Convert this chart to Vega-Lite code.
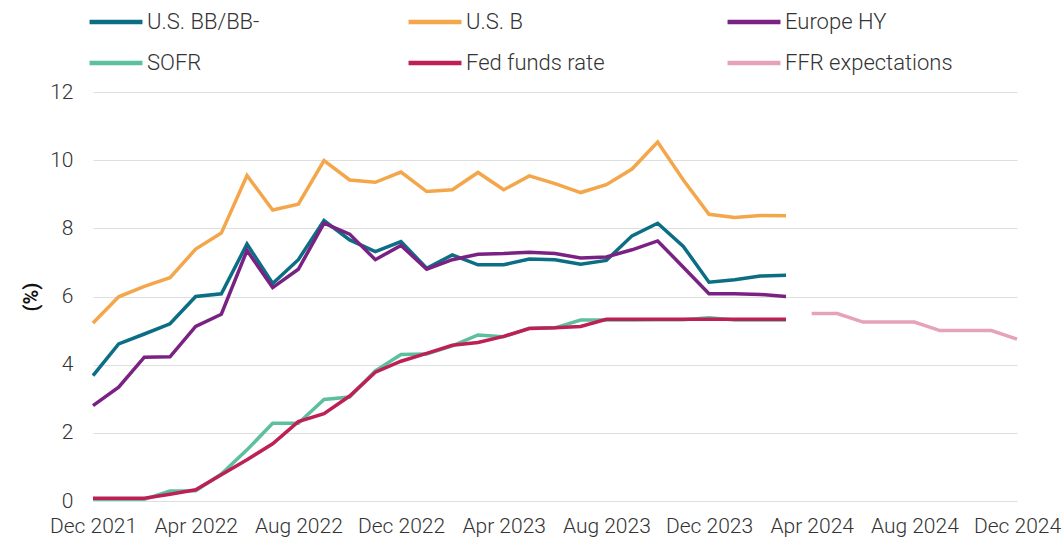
{
  "$schema": "https://vega.github.io/schema/vega-lite/v6.json",
  "width": 924,
  "height": 409,
  "autosize": {"type": "none"},
  "padding": {"left": 93, "top": 92, "right": 46, "bottom": 37},
  "background": "white",
  "config": {
    "font": "Roboto",
    "view": {"stroke": null},
    "axis": {"labelFont": "Roboto", "labelFontSize": 21, "labelFontWeight": 300, "labelColor": "#333333", "titleFont": "Roboto"},
    "legend": {"labelFont": "Roboto", "labelFontSize": 22, "labelFontWeight": 300, "labelColor": "#333333"}
  },
  "data": {"values": [
    {"month":"Dec 2021","series":"U.S. BB/BB-","value":3.68},
    {"month":"Jan 2022","series":"U.S. BB/BB-","value":4.61},
    {"month":"Feb 2022","series":"U.S. BB/BB-","value":4.90},
    {"month":"Mar 2022","series":"U.S. BB/BB-","value":5.20},
    {"month":"Apr 2022","series":"U.S. BB/BB-","value":6.00},
    {"month":"May 2022","series":"U.S. BB/BB-","value":6.08},
    {"month":"Jun 2022","series":"U.S. BB/BB-","value":7.54},
    {"month":"Jul 2022","series":"U.S. BB/BB-","value":6.38},
    {"month":"Aug 2022","series":"U.S. BB/BB-","value":7.08},
    {"month":"Sep 2022","series":"U.S. BB/BB-","value":8.23},
    {"month":"Oct 2022","series":"U.S. BB/BB-","value":7.66},
    {"month":"Nov 2022","series":"U.S. BB/BB-","value":7.32},
    {"month":"Dec 2022","series":"U.S. BB/BB-","value":7.61},
    {"month":"Jan 2023","series":"U.S. BB/BB-","value":6.83},
    {"month":"Feb 2023","series":"U.S. BB/BB-","value":7.22},
    {"month":"Mar 2023","series":"U.S. BB/BB-","value":6.93},
    {"month":"Apr 2023","series":"U.S. BB/BB-","value":6.93},
    {"month":"May 2023","series":"U.S. BB/BB-","value":7.10},
    {"month":"Jun 2023","series":"U.S. BB/BB-","value":7.08},
    {"month":"Jul 2023","series":"U.S. BB/BB-","value":6.95},
    {"month":"Aug 2023","series":"U.S. BB/BB-","value":7.06},
    {"month":"Sep 2023","series":"U.S. BB/BB-","value":7.78},
    {"month":"Oct 2023","series":"U.S. BB/BB-","value":8.15},
    {"month":"Nov 2023","series":"U.S. BB/BB-","value":7.47},
    {"month":"Dec 2023","series":"U.S. BB/BB-","value":6.42},
    {"month":"Jan 2024","series":"U.S. BB/BB-","value":6.49},
    {"month":"Feb 2024","series":"U.S. BB/BB-","value":6.60},
    {"month":"Mar 2024","series":"U.S. BB/BB-","value":6.62},

    {"month":"Dec 2021","series":"U.S. B","value":5.22},
    {"month":"Jan 2022","series":"U.S. B","value":5.99},
    {"month":"Feb 2022","series":"U.S. B","value":6.30},
    {"month":"Mar 2022","series":"U.S. B","value":6.55},
    {"month":"Apr 2022","series":"U.S. B","value":7.39},
    {"month":"May 2022","series":"U.S. B","value":7.86},
    {"month":"Jun 2022","series":"U.S. B","value":9.55},
    {"month":"Jul 2022","series":"U.S. B","value":8.54},
    {"month":"Aug 2022","series":"U.S. B","value":8.71},
    {"month":"Sep 2022","series":"U.S. B","value":9.99},
    {"month":"Oct 2022","series":"U.S. B","value":9.42},
    {"month":"Nov 2022","series":"U.S. B","value":9.35},
    {"month":"Dec 2022","series":"U.S. B","value":9.65},
    {"month":"Jan 2023","series":"U.S. B","value":9.08},
    {"month":"Feb 2023","series":"U.S. B","value":9.13},
    {"month":"Mar 2023","series":"U.S. B","value":9.64},
    {"month":"Apr 2023","series":"U.S. B","value":9.13},
    {"month":"May 2023","series":"U.S. B","value":9.54},
    {"month":"Jun 2023","series":"U.S. B","value":9.31},
    {"month":"Jul 2023","series":"U.S. B","value":9.05},
    {"month":"Aug 2023","series":"U.S. B","value":9.28},
    {"month":"Sep 2023","series":"U.S. B","value":9.74},
    {"month":"Oct 2023","series":"U.S. B","value":10.53},
    {"month":"Nov 2023","series":"U.S. B","value":9.42},
    {"month":"Dec 2023","series":"U.S. B","value":8.41},
    {"month":"Jan 2024","series":"U.S. B","value":8.32},
    {"month":"Feb 2024","series":"U.S. B","value":8.38},
    {"month":"Mar 2024","series":"U.S. B","value":8.37},

    {"month":"Dec 2021","series":"Europe HY","value":2.80},
    {"month":"Jan 2022","series":"Europe HY","value":3.34},
    {"month":"Feb 2022","series":"Europe HY","value":4.22},
    {"month":"Mar 2022","series":"Europe HY","value":4.23},
    {"month":"Apr 2022","series":"Europe HY","value":5.12},
    {"month":"May 2022","series":"Europe HY","value":5.48},
    {"month":"Jun 2022","series":"Europe HY","value":7.35},
    {"month":"Jul 2022","series":"Europe HY","value":6.26},
    {"month":"Aug 2022","series":"Europe HY","value":6.80},
    {"month":"Sep 2022","series":"Europe HY","value":8.15},
    {"month":"Oct 2022","series":"Europe HY","value":7.83},
    {"month":"Nov 2022","series":"Europe HY","value":7.08},
    {"month":"Dec 2022","series":"Europe HY","value":7.50},
    {"month":"Jan 2023","series":"Europe HY","value":6.80},
    {"month":"Feb 2023","series":"Europe HY","value":7.08},
    {"month":"Mar 2023","series":"Europe HY","value":7.24},
    {"month":"Apr 2023","series":"Europe HY","value":7.26},
    {"month":"May 2023","series":"Europe HY","value":7.30},
    {"month":"Jun 2023","series":"Europe HY","value":7.26},
    {"month":"Jul 2023","series":"Europe HY","value":7.13},
    {"month":"Aug 2023","series":"Europe HY","value":7.16},
    {"month":"Sep 2023","series":"Europe HY","value":7.37},
    {"month":"Oct 2023","series":"Europe HY","value":7.63},
    {"month":"Nov 2023","series":"Europe HY","value":6.86},
    {"month":"Dec 2023","series":"Europe HY","value":6.08},
    {"month":"Jan 2024","series":"Europe HY","value":6.08},
    {"month":"Feb 2024","series":"Europe HY","value":6.06},
    {"month":"Mar 2024","series":"Europe HY","value":6.00},

    {"month":"Dec 2021","series":"SOFR","value":0.05},
    {"month":"Jan 2022","series":"SOFR","value":0.05},
    {"month":"Feb 2022","series":"SOFR","value":0.05},
    {"month":"Mar 2022","series":"SOFR","value":0.29},
    {"month":"Apr 2022","series":"SOFR","value":0.30},
    {"month":"May 2022","series":"SOFR","value":0.79},
    {"month":"Jun 2022","series":"SOFR","value":1.50},
    {"month":"Jul 2022","series":"SOFR","value":2.28},
    {"month":"Aug 2022","series":"SOFR","value":2.28},
    {"month":"Sep 2022","series":"SOFR","value":2.98},
    {"month":"Oct 2022","series":"SOFR","value":3.05},
    {"month":"Nov 2022","series":"SOFR","value":3.82},
    {"month":"Dec 2022","series":"SOFR","value":4.30},
    {"month":"Jan 2023","series":"SOFR","value":4.31},
    {"month":"Feb 2023","series":"SOFR","value":4.55},
    {"month":"Mar 2023","series":"SOFR","value":4.87},
    {"month":"Apr 2023","series":"SOFR","value":4.82},
    {"month":"May 2023","series":"SOFR","value":5.07},
    {"month":"Jun 2023","series":"SOFR","value":5.08},
    {"month":"Jul 2023","series":"SOFR","value":5.31},
    {"month":"Aug 2023","series":"SOFR","value":5.31},
    {"month":"Sep 2023","series":"SOFR","value":5.31},
    {"month":"Oct 2023","series":"SOFR","value":5.32},
    {"month":"Nov 2023","series":"SOFR","value":5.32},
    {"month":"Dec 2023","series":"SOFR","value":5.38},
    {"month":"Jan 2024","series":"SOFR","value":5.31},
    {"month":"Feb 2024","series":"SOFR","value":5.31},
    {"month":"Mar 2024","series":"SOFR","value":5.31},

    {"month":"Dec 2021","series":"Fed funds rate","value":0.08},
    {"month":"Jan 2022","series":"Fed funds rate","value":0.08},
    {"month":"Feb 2022","series":"Fed funds rate","value":0.08},
    {"month":"Mar 2022","series":"Fed funds rate","value":0.20},
    {"month":"Apr 2022","series":"Fed funds rate","value":0.33},
    {"month":"May 2022","series":"Fed funds rate","value":0.77},
    {"month":"Jun 2022","series":"Fed funds rate","value":1.21},
    {"month":"Jul 2022","series":"Fed funds rate","value":1.68},
    {"month":"Aug 2022","series":"Fed funds rate","value":2.33},
    {"month":"Sep 2022","series":"Fed funds rate","value":2.56},
    {"month":"Oct 2022","series":"Fed funds rate","value":3.08},
    {"month":"Nov 2022","series":"Fed funds rate","value":3.78},
    {"month":"Dec 2022","series":"Fed funds rate","value":4.10},
    {"month":"Jan 2023","series":"Fed funds rate","value":4.33},
    {"month":"Feb 2023","series":"Fed funds rate","value":4.57},
    {"month":"Mar 2023","series":"Fed funds rate","value":4.65},
    {"month":"Apr 2023","series":"Fed funds rate","value":4.83},
    {"month":"May 2023","series":"Fed funds rate","value":5.06},
    {"month":"Jun 2023","series":"Fed funds rate","value":5.08},
    {"month":"Jul 2023","series":"Fed funds rate","value":5.12},
    {"month":"Aug 2023","series":"Fed funds rate","value":5.33},
    {"month":"Sep 2023","series":"Fed funds rate","value":5.33},
    {"month":"Oct 2023","series":"Fed funds rate","value":5.33},
    {"month":"Nov 2023","series":"Fed funds rate","value":5.33},
    {"month":"Dec 2023","series":"Fed funds rate","value":5.33},
    {"month":"Jan 2024","series":"Fed funds rate","value":5.33},
    {"month":"Feb 2024","series":"Fed funds rate","value":5.33},
    {"month":"Mar 2024","series":"Fed funds rate","value":5.33},

    {"month":"Apr 2024","series":"FFR expectations","value":5.50},
    {"month":"May 2024","series":"FFR expectations","value":5.50},
    {"month":"Jun 2024","series":"FFR expectations","value":5.25},
    {"month":"Jul 2024","series":"FFR expectations","value":5.25},
    {"month":"Aug 2024","series":"FFR expectations","value":5.25},
    {"month":"Sep 2024","series":"FFR expectations","value":5.00},
    {"month":"Oct 2024","series":"FFR expectations","value":5.00},
    {"month":"Nov 2024","series":"FFR expectations","value":5.00},
    {"month":"Dec 2024","series":"FFR expectations","value":4.75}
  ]},
  "mark": {"type": "line", "strokeWidth": 3.5, "strokeJoin": "miter"},
  "encoding": {
    "x": {
      "field": "month",
      "type": "ordinal",
      "sort": null,
      "scale": {
        "type": "point",
        "padding": 0,
        "domain": ["Dec 2021","Jan 2022","Feb 2022","Mar 2022","Apr 2022","May 2022","Jun 2022","Jul 2022","Aug 2022","Sep 2022","Oct 2022","Nov 2022","Dec 2022","Jan 2023","Feb 2023","Mar 2023","Apr 2023","May 2023","Jun 2023","Jul 2023","Aug 2023","Sep 2023","Oct 2023","Nov 2023","Dec 2023","Jan 2024","Feb 2024","Mar 2024","Apr 2024","May 2024","Jun 2024","Jul 2024","Aug 2024","Sep 2024","Oct 2024","Nov 2024","Dec 2024"]
      },
      "axis": {
        "title": null,
        "values": ["Dec 2021","Apr 2022","Aug 2022","Dec 2022","Apr 2023","Aug 2023","Dec 2023","Apr 2024","Aug 2024","Dec 2024"],
        "labelAngle": 0,
        "ticks": false,
        "domain": false,
        "grid": false,
        "labelPadding": 14,
        "labelOverlap": false
      }
    },
    "y": {
      "field": "value",
      "type": "quantitative",
      "scale": {"domain": [0, 12], "nice": false},
      "axis": {
        "title": "(%)",
        "titleFontSize": 20,
        "titleFontWeight": "bold",
        "titleColor": "#111111",
        "titlePadding": 8,
        "values": [0, 2, 4, 6, 8, 10, 12],
        "ticks": false,
        "domain": false,
        "grid": true,
        "gridColor": "#dedede",
        "gridWidth": 1.2,
        "labelPadding": 20
      }
    },
    "color": {
      "field": "series",
      "type": "nominal",
      "scale": {
        "domain": ["U.S. BB/BB-","U.S. B","Europe HY","SOFR","Fed funds rate","FFR expectations"],
        "range": ["#0B6E84","#F3A64A","#7A2283","#5CBF9E","#BF1F57","#E5A2B8"]
      },
      "legend": {
        "title": null,
        "orient": "none",
        "direction": "horizontal",
        "legendX": -6,
        "legendY": -99,
        "columns": 3,
        "gridAlign": "all",
        "columnPadding": 84,
        "rowPadding": 1,
        "symbolType": "stroke",
        "symbolSize": 2800,
        "symbolStrokeWidth": 4.5,
        "labelOffset": 2,
        "labelLimit": 300
      }
    }
  }
}
